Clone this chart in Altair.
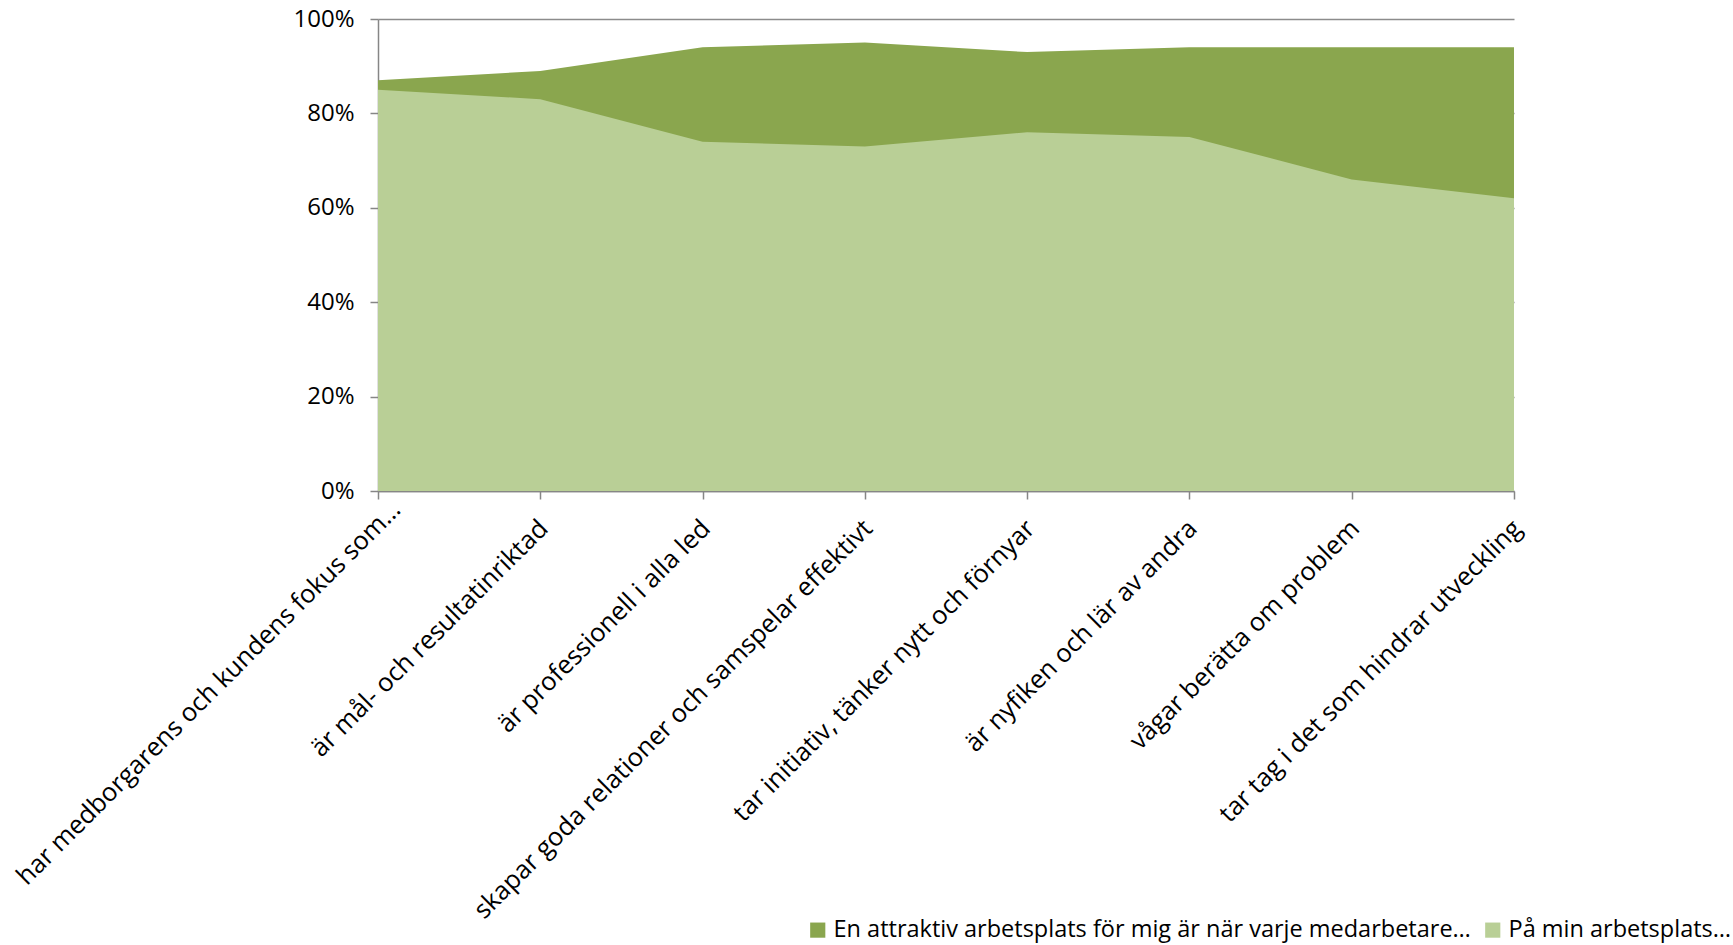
import altair as alt
import pandas as pd

categories = [
    "har medborgarens och kundens fokus som…",
    "är mål- och resultatinriktad",
    "är professionell i alla led",
    "skapar goda relationer och samspelar effektivt",
    "tar initiativ, tänker nytt och förnyar",
    "är nyfiken och lär av andra",
    "vågar berätta om problem",
    "tar tag i det som hindrar utveckling",
]
series_names = [
    "En attraktiv arbetsplats för mig är när varje medarbetare…",
    "På min arbetsplats…",
]
attraktiv = [87, 89, 94, 95, 93, 94, 94, 94]
min_arbetsplats = [85, 83, 74, 73, 76, 75, 66, 62]
colors = ["#8AA64E", "#B9CF96"]
y_ticks = [0, 20, 40, 60, 80, 100]

rows = []
for c, v in zip(categories, attraktiv):
    rows.append({"kategori": c, "serie": series_names[0], "värde": v})
for c, v in zip(categories, min_arbetsplats):
    rows.append({"kategori": c, "serie": series_names[1], "värde": v})
df = pd.DataFrame(rows)

FONT = "Open Sans"
first_test = "datum.value === '" + categories[0] + "'"

x_enc = alt.X(
    "kategori:O",
    sort=categories,
    scale=alt.Scale(type="point", padding=0),
    axis=alt.Axis(
        title=None,
        labelAngle=-45,
        labelAlign="right",
        labelBaseline="middle",
        labelFontSize=25.5,
        labelFont=FONT,
        labelColor="#000000",
        labelLimit=0,
        labelPadding={"condition": {"test": first_test, "value": 6}, "value": 25},
        labelOffset={"condition": {"test": first_test, "value": 18}, "value": 3},
        tickSize=8,
        tickColor="#868686",
        domainColor="#868686",
        domainWidth=1.5,
        tickWidth=1.5,
        grid=False,
    ),
)
y_enc = alt.Y(
    "värde:Q",
    stack=None,
    scale=alt.Scale(domain=[0, 100], nice=False),
    axis=alt.Axis(
        title=None,
        values=y_ticks,
        labelExpr="datum.value + '%'",
        labelFontSize=24,
        labelFont=FONT,
        labelColor="#000000",
        labelPadding=16,
        tickSize=8,
        tickColor="#868686",
        domainColor="#868686",
        domainWidth=1.5,
        tickWidth=1.5,
        grid=True,
        gridColor="#8C8C8C",
        gridWidth=1.5,
    ),
)
color_enc = alt.Color(
    "serie:N",
    sort=series_names,
    scale=alt.Scale(domain=series_names, range=colors),
    legend=alt.Legend(
        title=None,
        orient="none",
        direction="horizontal",
        legendX=428,
        legendY=899,
        symbolType="square",
        symbolSize=230,
        symbolStrokeWidth=0,
        labelFontSize=23.5,
        labelFont=FONT,
        labelColor="#000000",
        labelLimit=0,
        columnPadding=10,
        symbolOffset=0,
    ),
)

base = alt.Chart(df).encode(x=x_enc, y=y_enc, color=color_enc)
dark = base.transform_filter(alt.datum.serie == series_names[0]).mark_area(opacity=1, interpolate="linear")
light = base.transform_filter(alt.datum.serie == series_names[1]).mark_area(opacity=1, interpolate="linear")

chart = (
    alt.layer(dark, light)
    .properties(
        width=1136,
        height=472,
        autosize=alt.AutoSizeParams(type="none"),
        padding={"left": 378, "top": 19, "right": 219, "bottom": 454},
        background="white",
    )
    .configure_view(stroke=None)
)

chart.save("out.html", embed_options={"renderer": "svg", "actions": False})
